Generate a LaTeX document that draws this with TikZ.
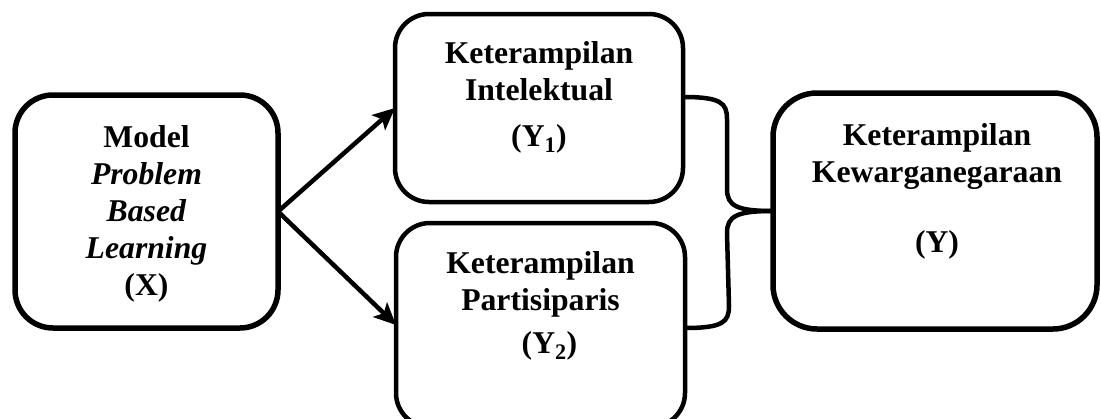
\documentclass[tikz,border=0pt]{standalone}
\usepackage{fontspec}
\setmainfont{Liberation Serif}
\usetikzlibrary{arrows.meta,calc}
\begin{document}
\begin{tikzpicture}[x=1pt,y=-1pt,
  box/.style={draw,rounded corners=38pt,inner sep=0pt,outer sep=0pt},
  txt/.style={align=center,anchor=north,inner sep=0pt,font=\fontsize{31.7}{37}\selectfont\bfseries},
  conn/.style={line width=4.5pt,-{Stealth[length=22pt,width=20pt,inset=5pt]}},
  brace/.style={line width=4.5pt}]
\useasboundingbox (0,0) rectangle (1101,418);
\clip (0,0) rectangle (1101,418);
\node[box,line width=5.5pt,minimum width=263pt,minimum height=233pt] (X) at (146.5,211.5) {};
\node[box,line width=4.5pt,rounded corners=34pt,minimum width=288pt,minimum height=188pt] (Y1) at (539,108) {};
\node[box,line width=4.5pt,rounded corners=34pt,minimum width=289pt,minimum height=204pt] (Y2) at (540.5,325) {};
\node[box,line width=5.5pt,rounded corners=44pt,minimum width=324pt,minimum height=236pt] (Y) at (935,211) {};
\node[txt] (tX) at (146.5,125.6) {Model\\\textit{Problem}\\\textit{Based}\\\textit{Learning}\\(X)};
\node[txt] (tY1) at (539,41.6) {Keterampilan\\Intelektual\\[9pt](Y\textsubscript{1})};
\node[txt] (tY2) at (540.5,251.6) {Keterampilan\\Partisiparis\\[6pt]\hspace*{18pt}(Y\textsubscript{2})};
\node[txt] (tY) at (937,123.6) {Keterampilan\\Kewarganegaraan\\[33pt](Y)};
\draw[conn] (X.east) -- (Y1.west);
\draw[conn] (X.east) -- (Y2.west);
\coordinate (b1) at ($(Y1.east)+(0,-11)$);
\coordinate (b2) at ($(Y2.east)+(0,3)$);
\coordinate (tip) at (Y.west);
\draw[brace] (b1) .. controls ($(b1)+(38,0)$) and ($(b1)+(44,6)$) .. ($(b1)+(44,22)$)
  -- ($(tip)+(-46,-22)$) .. controls ($(tip)+(-46,-5)$) and ($(tip)+(-36,0)$) .. (tip);
\draw[brace] (tip) .. controls ($(tip)+(-36,0)$) and ($(tip)+(-46,5)$) .. ($(tip)+(-46,22)$)
  -- ($(b2)+(44,-22)$) .. controls ($(b2)+(44,-6)$) and ($(b2)+(38,0)$) .. (b2);
\end{tikzpicture}
\end{document}
